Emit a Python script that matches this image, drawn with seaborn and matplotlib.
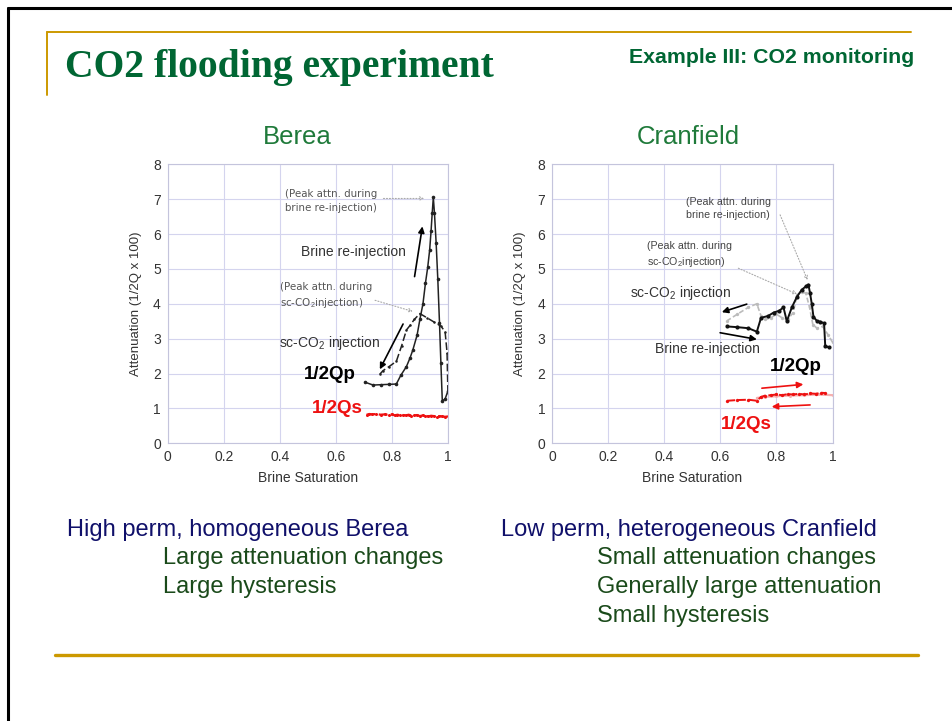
import matplotlib
matplotlib.use("Agg")
import matplotlib.pyplot as plt
import seaborn as sns
import pandas as pd
from matplotlib.lines import Line2D

sns.set_theme(style="white")
plt.rcParams["font.family"] = ["Liberation Sans", "DejaVu Sans"]
plt.rcParams["mathtext.fontset"] = "custom"
plt.rcParams["mathtext.rm"] = "Liberation Sans"

# ---------------- data ----------------
# Berea: P-wave attenuation, sc-CO2 injection (drainage)
berea_co2_sw = [1.0, 0.997, 0.99, 0.975, 0.95, 0.925, 0.90, 0.88, 0.865, 0.852, 0.835, 0.816, 0.79, 0.768, 0.757]
berea_co2_att = [1.45, 2.6, 3.2, 3.36, 3.48, 3.6, 3.72, 3.55, 3.38, 3.25, 2.8, 2.35, 2.2, 2.08, 1.98]
# Berea: P-wave attenuation, brine re-injection (imbibition)
berea_brine_sw = [0.705, 0.733, 0.76, 0.79, 0.816, 0.832, 0.852, 0.865, 0.875, 0.89, 0.90, 0.911, 0.92, 0.928,
                  0.935, 0.94, 0.944, 0.948, 0.952, 0.958, 0.964, 0.97, 0.975, 0.98, 0.99, 1.0]
berea_brine_att = [1.75, 1.67, 1.68, 1.69, 1.70, 1.95, 2.2, 2.45, 2.68, 3.1, 3.55, 4.0, 4.6, 5.05,
                   5.55, 6.1, 6.6, 7.05, 6.6, 5.75, 4.7, 3.45, 2.3, 1.22, 1.27, 1.5]
# Berea: S-wave attenuation
berea_qs_sw = [0.71, 0.72, 0.73, 0.745, 0.76, 0.775, 0.79, 0.80, 0.81, 0.82, 0.83, 0.84, 0.85, 0.86,
               0.87, 0.88, 0.89, 0.90, 0.91, 0.92, 0.93, 0.94, 0.95, 0.96, 0.97, 0.98, 0.99, 1.0]
berea_qs_att = [0.82, 0.84, 0.83, 0.84, 0.82, 0.83, 0.81, 0.83, 0.80, 0.82, 0.80, 0.81, 0.80, 0.82,
                0.79, 0.80, 0.81, 0.78, 0.80, 0.79, 0.77, 0.79, 0.78, 0.76, 0.78, 0.77, 0.76, 0.77]

# Cranfield: P-wave attenuation, brine re-injection
cran_brine_sw = [0.625, 0.66, 0.70, 0.73, 0.745, 0.77, 0.79, 0.81, 0.825, 0.837, 0.855, 0.873, 0.89,
                 0.905, 0.914, 0.92, 0.926, 0.932, 0.945, 0.956, 0.97, 0.974, 0.986]
cran_brine_att = [3.35, 3.33, 3.3, 3.2, 3.6, 3.65, 3.75, 3.8, 3.9, 3.5, 3.9, 4.2, 4.4,
                  4.5, 4.55, 4.3, 4.0, 3.63, 3.5, 3.49, 3.44, 2.8, 2.75]
# Cranfield: P-wave attenuation, sc-CO2 injection
cran_co2_sw = [1.0, 0.985, 0.965, 0.945, 0.93, 0.918, 0.905, 0.89, 0.873, 0.86, 0.84, 0.82, 0.80,
               0.78, 0.76, 0.745, 0.73, 0.70, 0.66, 0.625]
cran_co2_att = [2.9, 3.1, 3.35, 3.3, 3.4, 3.9, 4.3, 4.35, 4.25, 3.75, 3.55, 3.6, 3.7,
                3.6, 3.55, 3.65, 4.0, 3.9, 3.7, 3.52]
# Cranfield: S-wave attenuation
cran_qs_sw = [0.625, 0.66, 0.70, 0.73, 0.745, 0.76, 0.78, 0.80, 0.82, 0.84, 0.86, 0.88, 0.90,
              0.92, 0.94, 0.96, 0.975]
cran_qs_att = [1.22, 1.24, 1.25, 1.22, 1.33, 1.37, 1.38, 1.40, 1.38, 1.41, 1.40, 1.42, 1.40,
               1.43, 1.42, 1.45, 1.44]
cran_qs2_sw = [0.73, 0.76, 0.80, 0.85, 0.90, 0.95, 1.0]
cran_qs2_att = [1.30, 1.33, 1.35, 1.37, 1.38, 1.40, 1.38]

x_ticks = [0, 0.2, 0.4, 0.6, 0.8, 1]
x_tick_labels = ["0", "0.2", "0.4", "0.6", "0.8", "1"]
y_ticks = [0, 1, 2, 3, 4, 5, 6, 7, 8]

# ---------------- figure ----------------
W, H = 952, 721
fig = plt.figure(figsize=(W / 100, H / 100), dpi=100)
fig.patch.set_facecolor("white")


def fx(px):
    return px / W


def fy(py):
    return 1 - py / H


# slide frame and header rules
fig.add_artist(Line2D([fx(8), fx(952)], [fy(8), fy(8)], color="black", lw=2.2))
fig.add_artist(Line2D([fx(8), fx(8)], [fy(8), fy(721)], color="black", lw=2.2))
gold = "#cc9900"
fig.add_artist(Line2D([fx(47), fx(911)], [fy(32), fy(32)], color=gold, lw=1.4))
fig.add_artist(Line2D([fx(47), fx(47)], [fy(32), fy(95)], color=gold, lw=1.4))
fig.add_artist(Line2D([fx(55), fx(918)], [fy(655), fy(655)], color=gold, lw=2.4))

fig.text(fx(65), fy(77), "CO2 flooding experiment", family="Liberation Serif", weight="bold",
         fontsize=28.5, color="#006633", va="baseline", ha="left")
fig.text(fx(629), fy(63), "Example III: CO2 monitoring", weight="bold", fontsize=15.3,
         color="#006633", va="baseline", ha="left")

fig.text(fx(297), fy(144), "Berea", fontsize=18.5, color="#1f7a3a", ha="center", va="baseline")
fig.text(fx(688), fy(144), "Cranfield", fontsize=18.5, color="#1f7a3a", ha="center", va="baseline")

navy = "#10106a"
dgreen = "#1a4a1a"
fig.text(fx(67), fy(536), "High perm, homogeneous Berea", fontsize=17, color=navy, va="baseline")
fig.text(fx(163), fy(564), "Large attenuation changes", fontsize=17, color=dgreen, va="baseline")
fig.text(fx(163), fy(593), "Large hysteresis", fontsize=17, color=dgreen, va="baseline")
fig.text(fx(501), fy(536), "Low perm, heterogeneous Cranfield", fontsize=17, color=navy, va="baseline")
fig.text(fx(597), fy(564), "Small attenuation changes", fontsize=17, color=dgreen, va="baseline")
fig.text(fx(597), fy(593), "Generally large attenuation", fontsize=17, color=dgreen, va="baseline")
fig.text(fx(597), fy(622), "Small hysteresis", fontsize=17, color=dgreen, va="baseline")


def make_axes(left_px):
    ax = fig.add_axes([fx(left_px), fy(443.3), (280.2) / W, (443.3 - 164.3) / H])
    ax.set_xlim(0, 1)
    ax.set_ylim(0, 8)
    ax.set_xticks(x_ticks)
    ax.set_xticklabels(x_tick_labels)
    ax.set_yticks(y_ticks)
    ax.grid(True, color="#d4d4ee", lw=0.8)
    for s in ax.spines.values():
        s.set_color("#c4c4dc")
        s.set_linewidth(0.8)
    ax.tick_params(length=0, labelsize=10, labelcolor="#333333", pad=5)
    ax.set_xlabel("Brine Saturation", fontsize=10, color="#333333", labelpad=5)
    ax.set_ylabel("Attenuation (1/2Q x 100)", fontsize=9.5, color="#333333", labelpad=8)
    return ax


def curve(ax, xs, ys, **kw):
    df = pd.DataFrame({"sw": xs, "att": ys})
    sns.lineplot(data=df, x="sw", y="att", sort=False, estimator=None, ax=ax, **kw)


def arrow(ax, start, end, color="black", lw=1.2, ls="-", style="-|>", ms=9):
    ax.annotate("", xy=end, xytext=start,
                arrowprops=dict(arrowstyle=style, color=color, lw=lw, linestyle=ls,
                                mutation_scale=ms, shrinkA=0, shrinkB=0))


# ---------------- Berea ----------------
ax1 = make_axes(167.7)
curve(ax1, berea_co2_sw, berea_co2_att, color="#222222", lw=1.1, linestyle=(0, (5, 2)),
      marker="o", markersize=1.8, markeredgewidth=0)
curve(ax1, berea_brine_sw, berea_brine_att, color="#222222", lw=1.1,
      marker="o", markersize=2.6, markeredgewidth=0)
curve(ax1, berea_qs_sw, berea_qs_att, color="#ee1111", lw=1.6, linestyle=(0, (4, 1.5)),
      marker="o", markersize=2.2, markeredgewidth=0)

ann_kw = dict(fontsize=7.4, color="#555555", family="DejaVu Sans", va="center", ha="left",
              linespacing=1.45)
ax1.text(0.42, 6.95, "(Peak attn. during\nbrine re-injection)", **ann_kw)
ax1.text(0.40, 4.22, "(Peak attn. during\nsc-CO$_2$injection)", **ann_kw)
arrow(ax1, (0.77, 7.02), (0.915, 7.02), color="#aaaaaa", lw=0.8, ls=":", style="->", ms=6)
arrow(ax1, (0.74, 4.1), (0.875, 3.78), color="#aaaaaa", lw=0.8, ls=":", style="->", ms=6)
ax1.text(0.474, 5.48, "Brine re-injection", fontsize=10, color="#333333", va="center")
ax1.text(0.398, 2.87, "sc-CO$_2$ injection", fontsize=10, color="#333333", va="center")
arrow(ax1, (0.881, 4.78), (0.909, 6.22))
arrow(ax1, (0.84, 3.42), (0.757, 2.12))
ax1.text(0.486, 1.96, "1/2Qp", fontsize=13.5, weight="bold", color="black", va="center")
ax1.text(0.513, 1.0, "1/2Qs", fontsize=13.5, weight="bold", color="#ee1111", va="center")

# ---------------- Cranfield ----------------
ax2 = make_axes(552.3)
curve(ax2, cran_co2_sw, cran_co2_att, color="#bbbbbb", lw=1.2, linestyle=(0, (3, 1.5)),
      marker="o", markersize=2.4, markeredgewidth=0)
curve(ax2, cran_brine_sw, cran_brine_att, color="#111111", lw=1.4,
      marker="o", markersize=3.0, markeredgewidth=0)
curve(ax2, cran_qs2_sw, cran_qs2_att, color="#f5b0b0", lw=1.6,
      marker="o", markersize=2.2, markeredgewidth=0)
curve(ax2, cran_qs_sw, cran_qs_att, color="#ee1111", lw=1.4, linestyle=(0, (4, 1.5)),
      marker="o", markersize=2.4, markeredgewidth=0)

ann_kw2 = dict(fontsize=7.7, color="#444444", va="center", ha="left", linespacing=1.35)
ax2.text(0.476, 6.73, "(Peak attn. during\nbrine re-injection)", **ann_kw2)
ax2.text(0.337, 5.40, "(Peak attn. during\nsc-CO$_2$injection)", **ann_kw2)
arrow(ax2, (0.813, 6.55), (0.911, 4.68), color="#aaaaaa", lw=0.8, ls=":", style="->", ms=6)
arrow(ax2, (0.664, 5.02), (0.873, 4.28), color="#aaaaaa", lw=0.8, ls=":", style="->", ms=6)
ax2.text(0.277, 4.32, "sc-CO$_2$ injection", fontsize=10, color="#333333", va="center")
ax2.text(0.367, 2.70, "Brine re-injection", fontsize=10, color="#333333", va="center")
arrow(ax2, (0.694, 3.99), (0.605, 3.76))
arrow(ax2, (0.599, 3.17), (0.73, 2.98))
arrow(ax2, (0.748, 1.58), (0.896, 1.69), color="#ee1111")
arrow(ax2, (0.92, 1.10), (0.783, 1.05), color="#ee1111")
ax2.text(0.777, 2.2, "1/2Qp", fontsize=13.5, weight="bold", color="black", va="center")
ax2.text(0.602, 0.53, "1/2Qs", fontsize=13.5, weight="bold", color="#ee1111", va="center")

fig.savefig("out.png", dpi=100, facecolor="white")
